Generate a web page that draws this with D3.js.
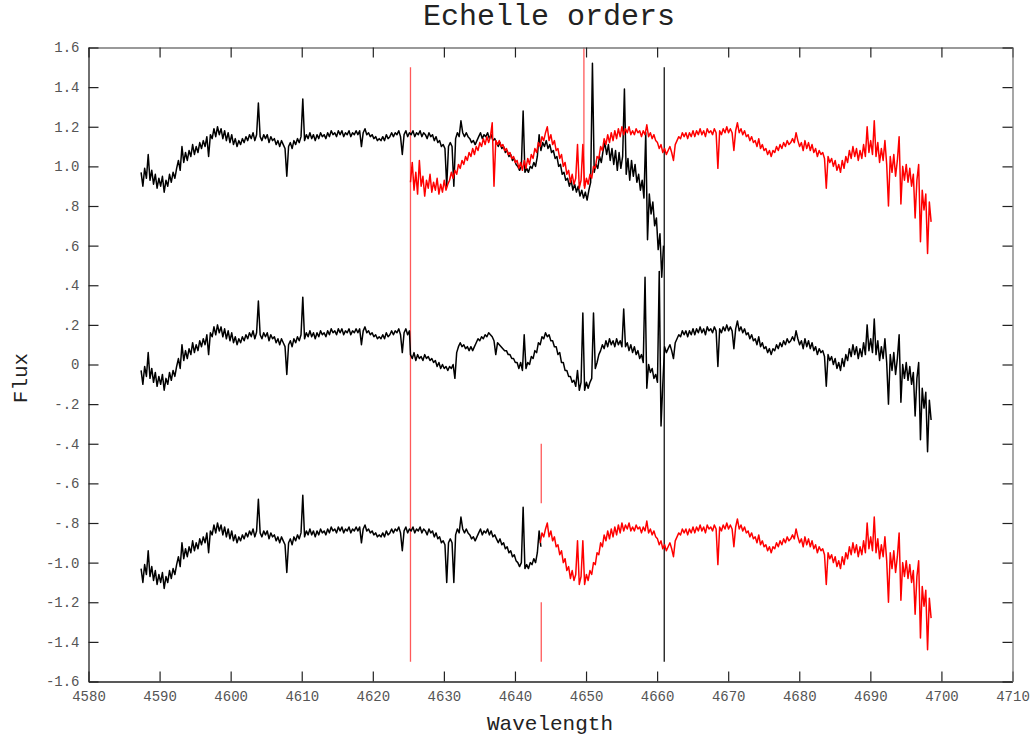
<!DOCTYPE html>
<html><head><meta charset="utf-8">
<script src="https://cdn.jsdelivr.net/npm/d3@7"></script>
<style>body{margin:0;background:#fff}</style>
</head><body>
<svg id="chart" width="1034" height="738"></svg>
<script>
// ---- data ----
const xTicks = [4580,4590,4600,4610,4620,4630,4640,4650,4660,4670,4680,4690,4700,4710];
const yTicks = [1.6,1.4,1.2,1.0,0.8,0.6,0.4,0.2,0,-0.2,-0.4,-0.6,-0.8,-1.0,-1.2,-1.4,-1.6];
const yTickLabels = ["1.6","1.4","1.2","1.0",".8",".6",".4",".2","0","-.2","-.4","-.6","-.8","-1.0","-1.2","-1.4","-1.6"];
const sampleStep = 0.25;
const orderAStart = 4587.4;
const orderBStart = 4625.3;
const mergedStart = 4625.3;
const orderAFlux = [
.97,.90,.99,.94,1.06,.93,.98,.91,.96,.89,.94,.90,.95,.87,.93,.90,.96,.92,.97,.94,
.99,1.03,.98,1.10,1.02,1.07,1.03,1.08,1.05,1.11,1.06,1.10,1.07,1.12,1.09,1.13,1.10,1.15,1.05,1.16,
1.14,1.19,1.15,1.20,1.16,1.19,1.14,1.18,1.13,1.17,1.12,1.16,1.11,1.14,1.10,1.13,1.11,1.14,1.12,1.15,
1.13,1.16,1.14,1.17,1.13,1.16,1.32,1.15,1.13,1.16,1.14,1.16,1.12,1.15,1.13,1.14,1.11,1.13,1.10,1.13,
1.11,1.09,.95,1.10,1.12,1.09,1.13,1.11,1.14,1.12,1.15,1.34,1.13,1.16,1.14,1.17,1.14,1.16,1.13,1.16,
1.14,1.17,1.15,1.16,1.14,1.17,1.15,1.18,1.16,1.17,1.15,1.18,1.16,1.18,1.15,1.17,1.16,1.18,1.15,1.17,
1.16,1.18,1.16,1.18,1.10,1.17,1.19,1.16,1.17,1.15,1.16,1.14,1.15,1.13,1.14,1.13,1.15,1.13,1.16,1.14,
1.15,1.17,1.15,1.17,1.16,1.18,1.15,1.06,1.16,1.18,1.15,1.17,1.16,1.18,1.15,1.17,1.16,1.18,1.15,1.17,
1.16,1.14,1.17,1.15,1.16,1.13,1.15,1.12,1.13,1.10,1.11,1.09,.90,1.10,1.12,1.10,.90,1.14,1.17,1.15,
1.23,1.17,1.15,1.17,1.15,1.14,1.12,1.13,1.11,1.13,1.15,1.17,1.14,1.16,1.15,1.17,1.14,1.16,1.13,1.14,
1.12,1.10,1.12,1.09,1.10,1.07,1.08,1.05,1.06,1.03,1.04,1.01,1.00,.98,1.00,1.28,.97,.99,.97,1.00,
.99,1.02,1.00,1.05,1.16,1.08,1.12,1.10,1.13,1.09,1.11,1.07,1.08,1.04,1.05,1.00,1.01,.96,.97,.93,
.94,.90,.93,.88,.91,.87,.90,.85,.88,.84,.87,.83,.88,.92,1.52,.97,1.01,.99,1.05,1.02,
1.08,1.12,1.06,1.11,1.03,1.09,1.01,1.08,.98,1.07,.99,1.05,1.39,.96,1.04,.93,1.03,.95,1.01,.92,
.96,.88,.93,.84,1.17,.63,.86,.76,.82,.70,.74,.58,.66,.44,.60
];
const orderBFlux = [
.92,1.02,.88,.97,.86,1.03,.90,.95,.85,.93,.89,.96,.87,.92,.88,.94,.86,.91,.87,.93,
.88,.91,.93,.97,.94,.98,.96,1.01,.99,1.03,1.01,1.05,1.03,1.07,1.05,1.09,1.06,1.10,1.08,1.12,
1.10,1.14,1.11,1.15,1.12,1.15,1.22,.90,1.13,1.11,1.13,1.10,1.11,1.08,1.09,1.06,1.07,1.04,1.05,1.02,
1.03,.99,1.02,.98,1.03,.99,1.04,1.01,1.06,1.04,1.09,1.07,1.12,1.10,1.15,1.13,1.17,1.20,1.13,1.16,
1.11,1.13,1.08,1.09,1.04,1.06,1.00,1.02,.96,.98,.92,.96,.91,.94,1.11,.89,.93,1.11,.89,.94,
.91,.96,.94,1.00,.99,1.05,1.04,1.10,1.08,1.14,1.11,1.16,1.12,1.17,1.13,1.18,1.14,1.19,1.15,1.20,
1.16,1.19,1.17,1.20,1.16,1.18,1.16,1.19,1.17,1.18,1.15,1.18,1.16,1.21,1.15,1.17,1.14,1.16,1.13,1.12,
1.09,1.11,1.07,1.09,1.06,1.08,1.10,1.07,1.03,1.11,1.13,1.15,1.14,1.17,1.15,1.17,1.14,1.17,1.15,1.18,
1.15,1.18,1.16,1.19,1.16,1.18,1.15,1.19,1.17,1.18,1.16,1.19,1.17,.99,1.18,1.16,1.19,1.17,1.20,1.17,
1.19,1.17,1.08,1.18,1.22,1.17,1.19,1.16,1.18,1.15,1.16,1.13,1.15,1.12,1.13,1.10,1.14,1.09,1.11,1.08,
1.09,1.06,1.08,1.05,1.08,1.07,1.10,1.08,1.11,1.09,1.12,1.10,1.13,1.11,1.12,1.14,1.12,1.17,1.13,1.10,
1.12,1.08,1.13,1.09,1.12,1.08,1.11,1.07,1.09,1.05,1.08,1.06,1.07,1.04,.89,1.05,1.02,1.04,1.00,1.03,
.98,1.01,.97,1.03,.99,1.05,1.02,1.08,1.04,1.10,1.05,1.09,1.03,1.08,1.04,1.11,1.05,1.20,1.07,1.13,
1.06,1.23,1.05,1.12,1.02,1.09,1.03,1.13,1.01,.80,1.05,.97,1.06,.95,1.03,1.15,.81,1.00,.93,1.01,
.92,.99,.90,.96,.74,.93,1.01,.62,.88,.78,.86,.56,.82,.72
];
const mergedFlux = [
1.05,1.03,1.06,1.02,1.05,1.03,1.04,1.02,1.05,1.03,1.04,1.02,1.03,1.01,1.02,.99,1.01,.98,1.00,.98,
.99,.97,.99,.98,1.00,.93,1.06,1.09,1.11,1.09,1.10,1.08,1.09,1.07,1.09,1.07,1.09,1.11,1.13,1.12,
1.14,1.13,1.15,1.14,1.16,1.15,1.14,1.12,1.05,1.11,1.10,1.09,1.08,1.07,1.07,1.05,1.05,1.03,1.03,1.01,
1.01,.98,1.01,.97,1.15,.98,1.01,1.00,1.04,1.03,1.07,1.06,1.11,1.10,1.14,1.13,1.16,1.14,1.15,1.12,
1.12,1.09,1.09,1.05,1.06,1.01,1.01,.97,.97,.94,.94,.91,.92,.89,.97,.87,.91,1.26,.87,.91,
.88,.91,.93,1.26,.98,1.01,1.05,1.07,1.10,1.08,1.12,1.09,1.13,1.10,1.12,1.09,1.13,1.10,1.12,1.09,
1.28,1.09,1.11,1.07,1.10,1.06,1.09,1.05,1.07,1.03,1.05,1.01,1.44,.88,1.00,.96,.98,.93,.95,.91,
1.47,.69,.90
];
const bandOffsets = [0, -1, -2];
const orderBEndOfOverlap = 4661.0;
const bottomJoin = 4643.7;
const redMarkers = [[4625.3,-1.5,1.5],[4643.7,-1.5,-1.2],[4643.7,-0.7,-0.4],[4649.7,0.9,1.7]];
const blackMarkers = [[4661.0,-1.5,1.5]];

// ---- chart ----
const svg = d3.select("#chart");
const L = 88.5, R = 1012.5, T = 47.5, B = 681.5;
const x = d3.scaleLinear().domain([4580,4710]).range([L,R]);
const y = d3.scaleLinear().domain([-1.6,1.6]).range([B,T]);
const FONT = "'Liberation Mono','DejaVu Sans Mono',monospace";
const SW = 1.5;

const pts = (start, flux) => flux.map((f,i)=>({w:+(start+i*sampleStep).toFixed(2), f}));
const A = pts(orderAStart, orderAFlux);
const Bo = pts(orderBStart, orderBFlux);
const M = pts(mergedStart, mergedFlux);

svg.append("defs").append("clipPath").attr("id","clip")
  .append("rect").attr("x",L).attr("y",T).attr("width",R-L).attr("height",B-T);
const plot = svg.append("g").attr("clip-path","url(#clip)");

const line = off => d3.line().x(d=>x(d.w)).y(d=>y(d.f+off));

// markers
plot.selectAll("line.rm").data(redMarkers).join("line")
  .attr("x1",d=>x(d[0])).attr("x2",d=>x(d[0]))
  .attr("y1",d=>y(d[1])).attr("y2",d=>y(d[2]))
  .attr("stroke","#ff3030").attr("stroke-width",1.3).attr("opacity",0.8);
plot.selectAll("line.bm").data(blackMarkers).join("line")
  .attr("x1",d=>x(d[0])).attr("x2",d=>x(d[0]))
  .attr("y1",d=>y(d[1])).attr("y2",d=>y(d[2]))
  .attr("stroke","#000").attr("stroke-width",1.2);

// top band: both orders
plot.append("path").datum(A).attr("d",line(bandOffsets[0]))
  .attr("fill","none").attr("stroke","#000").attr("stroke-width",SW).attr("stroke-linejoin","round");
plot.append("path").datum(Bo).attr("d",line(bandOffsets[0]))
  .attr("fill","none").attr("stroke","#ff0000").attr("stroke-width",SW).attr("stroke-linejoin","round");

// middle band: merged
const mid = A.filter(d=>d.w < orderBStart).concat(M, Bo.filter(d=>d.w > orderBEndOfOverlap));
plot.append("path").datum(mid).attr("d",line(bandOffsets[1]))
  .attr("fill","none").attr("stroke","#000").attr("stroke-width",SW).attr("stroke-linejoin","round");

// bottom band: spliced
plot.append("path").datum(A.filter(d=>d.w <= bottomJoin)).attr("d",line(bandOffsets[2]))
  .attr("fill","none").attr("stroke","#000").attr("stroke-width",SW).attr("stroke-linejoin","round");
plot.append("path").datum(Bo.filter(d=>d.w >= bottomJoin-0.15)).attr("d",line(bandOffsets[2]))
  .attr("fill","none").attr("stroke","#ff0000").attr("stroke-width",SW).attr("stroke-linejoin","round");

// axes
function style(g, domainColor){
  g.select(".domain").attr("stroke",domainColor).attr("stroke-width",1.3);
  g.selectAll(".tick line").attr("stroke","#222").attr("stroke-width",1.2);
  g.selectAll(".tick text").attr("fill","#555").style("font-family",FONT).style("font-size","14px");
}
svg.append("g").attr("transform",`translate(0,${B})`)
  .call(d3.axisBottom(x).tickValues(xTicks).tickFormat(d3.format("d")).tickSizeInner(-10).tickSizeOuter(0).tickPadding(10))
  .call(g=>style(g,"#222"));
svg.append("g").attr("transform",`translate(0,${T})`)
  .call(d3.axisTop(x).tickValues(xTicks).tickFormat("").tickSizeInner(-10).tickSizeOuter(0))
  .call(g=>style(g,"#777"));
svg.append("g").attr("transform",`translate(${L},0)`)
  .call(d3.axisLeft(y).tickValues(yTicks).tickFormat((d,i)=>yTickLabels[i]).tickSizeInner(-10).tickSizeOuter(0).tickPadding(9))
  .call(g=>style(g,"#222"));
svg.append("g").attr("transform",`translate(${R},0)`)
  .call(d3.axisRight(y).tickValues(yTicks).tickFormat("").tickSizeInner(-10).tickSizeOuter(0))
  .call(g=>style(g,"#777"));

// titles
svg.append("text").attr("x",549).attr("y",25).attr("text-anchor","middle")
  .style("font-family",FONT).style("font-size","30px").attr("fill","#222").text("Echelle orders");
svg.append("text").attr("x",550).attr("y",730).attr("text-anchor","middle")
  .style("font-family",FONT).style("font-size","21px").attr("fill","#222").text("Wavelength");
svg.append("text").attr("transform","translate(27,378) rotate(-90)").attr("text-anchor","middle")
  .style("font-family",FONT).style("font-size","21px").attr("fill","#222").text("Flux");
</script>
</body></html>
